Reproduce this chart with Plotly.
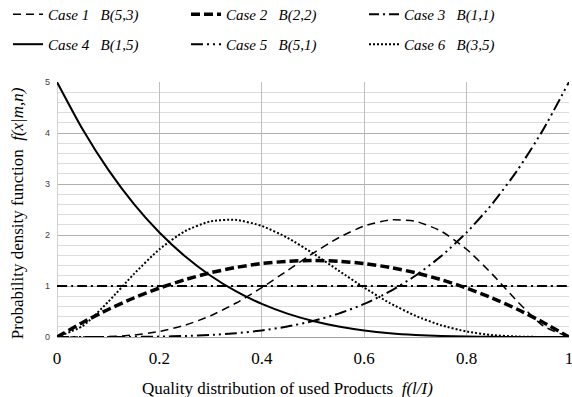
import plotly.graph_objects as go

x_vals = [0, 0.05, 0.1, 0.15, 0.2, 0.25, 0.3, 0.35, 0.4, 0.45, 0.5,
          0.55, 0.6, 0.65, 0.7, 0.75, 0.8, 0.85, 0.9, 0.95, 1]

case1_b53 = [0, 0.0006, 0.0085, 0.038, 0.108, 0.231, 0.417, 0.666, 0.968, 1.303, 1.641,
             1.946, 2.177, 2.296, 2.269, 2.076, 1.720, 1.233, 0.689, 0.214, 0]
case2_b22 = [0, 0.285, 0.54, 0.765, 0.96, 1.125, 1.26, 1.365, 1.44, 1.485, 1.5,
             1.485, 1.44, 1.365, 1.26, 1.125, 0.96, 0.765, 0.54, 0.285, 0]
case3_b11 = [1] * 21
case4_b15 = [5, 4.073, 3.281, 2.61, 2.048, 1.582, 1.201, 0.893, 0.648, 0.458, 0.313,
             0.205, 0.128, 0.075, 0.041, 0.020, 0.008, 0.0025, 0.0005, 0.00003, 0]
case5_b51 = [0, 0.00003, 0.0005, 0.0025, 0.008, 0.020, 0.041, 0.075, 0.128, 0.205, 0.313,
             0.458, 0.648, 0.893, 1.201, 1.582, 2.048, 2.61, 3.281, 4.073, 5]
case6_b35 = [0, 0.214, 0.689, 1.233, 1.720, 2.076, 2.269, 2.296, 2.177, 1.946, 1.641,
             1.303, 0.968, 0.666, 0.417, 0.231, 0.108, 0.038, 0.0085, 0.0006, 0]

case_labels = ["Case 1", "Case 2", "Case 3", "Case 4", "Case 5", "Case 6"]
dist_labels = ["B(5,3)", "B(2,2)", "B(1,1)", "B(1,5)", "B(5,1)", "B(3,5)"]
series = [case1_b53, case2_b22, case3_b11, case4_b15, case5_b51, case6_b35]

NB = "\u00a0"
styles = [
    dict(width=1.5, dash="8px,5px"),
    dict(width=3.5, dash="9px,4px"),
    dict(width=2, dash="10px,4px,2px,4px"),
    dict(width=2, dash="solid"),
    dict(width=2, dash="12px,4px,2px,4px,2px,4px"),
    dict(width=2, dash="2px,2px"),
]
legends = ["legend", "legend", "legend", "legend2", "legend2", "legend2"]

fig = go.Figure()
for cl, dl, ys, st, lg in zip(case_labels, dist_labels, series, styles, legends):
    fig.add_trace(go.Scatter(
        x=x_vals, y=ys, mode="lines", name=cl + NB * 3 + dl, legend=lg,
        line=dict(color="black", shape="spline", smoothing=0.6, **st),
        cliponaxis=False,
    ))

legend_font = dict(family="Liberation Serif", size=15, color="black", style="italic")
common_leg = dict(orientation="h", x=-0.0957, xref="paper", yref="paper",
                  xanchor="left", yanchor="top", entrywidth=133, entrywidthmode="pixels",
                  font=legend_font, itemwidth=30, bgcolor="rgba(0,0,0,0)")

fig.update_layout(
    width=572, height=397,
    margin=dict(l=57, r=3, t=82, b=60, autoexpand=False),
    plot_bgcolor="white", paper_bgcolor="white",
    showlegend=True,
    legend=dict(y=1.329, **common_leg),
    legend2=dict(y=1.212, **common_leg),
    xaxis=dict(range=[0, 1], dtick=0.2, tick0=0, showgrid=True, gridcolor="#bfbfbf",
               gridwidth=1, zeroline=True, zerolinecolor="#d0d0d0", zerolinewidth=1,
               showline=False, ticks="", ticklabelstandoff=9, ticklabeloverflow="allow",
               tickfont=dict(family="Liberation Serif", size=17, color="black"),
               tickformat="~g"),
    yaxis=dict(range=[0, 5], dtick=1, tick0=0, showgrid=True, gridcolor="#b0b0b0",
               gridwidth=1, zeroline=True, zerolinecolor="#a0a0a0", zerolinewidth=1,
               showline=False, ticks="", ticklabelstandoff=6,
               tickfont=dict(family="Liberation Sans", size=9, color="#404040"),
               minor=dict(dtick=0.2, showgrid=True, gridcolor="#dcdcdc", gridwidth=1)),
    annotations=[
        dict(text="Probability density function" + NB * 2 + "<i>f(x|m,n)</i>",
             xref="paper", yref="paper", x=-0.078, y=0.486, textangle=-90,
             xanchor="center", yanchor="middle", showarrow=False,
             font=dict(family="Liberation Serif", size=17, color="black")),
        dict(text="Quality distribution of used Products" + NB * 2 + "<i>f(l/I)</i>",
             xref="paper", yref="paper", x=0.451, y=-0.2,
             xanchor="center", yanchor="middle", showarrow=False,
             font=dict(family="Liberation Serif", size=17, color="black")),
    ],
)

fig.write_html("out.html", config={"displayModeBar": False},
               post_script="document.body.style.margin='0';")
